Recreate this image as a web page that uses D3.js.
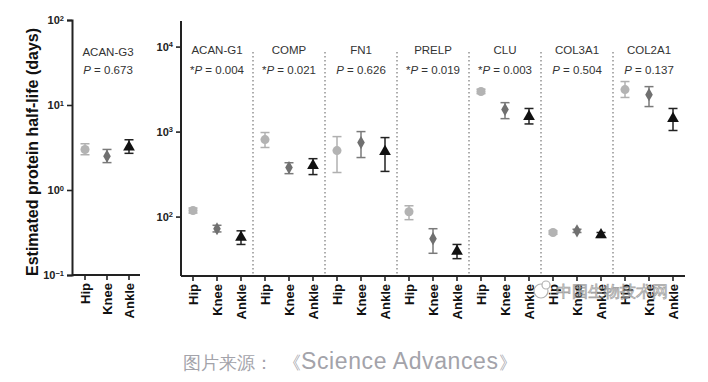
<!DOCTYPE html>
<html>
<head>
<meta charset="utf-8">
<script src="https://cdn.jsdelivr.net/npm/d3@7"></script>
<style>
  body { margin: 0; background: #fff; }
  svg text { font-family: Arial, "Liberation Sans", sans-serif; }
</style>
</head>
<body>
<svg id="chart" width="708" height="382"></svg>
<script>
// joints on the x axis
const joints = ["Hip", "Knee", "Ankle"];

// left panel (ACAN-G3)
const g3Mean = [3.0, 2.5, 3.2];
const g3Low = [2.6, 2.1, 2.7];
const g3High = [3.5, 3.0, 3.9];

// right panel
const genes = ["ACAN-G1", "COMP", "FN1", "PRELP", "CLU", "COL3A1", "COL2A1"];
const pValues = ["0.004", "0.021", "0.626", "0.019", "0.003", "0.504", "0.137"];
const pStar = [true, true, false, true, true, false, false];

const hipMean = [118, 805, 598, 114, 2960, 65, 3120];
const hipLow = [110, 650, 330, 92, 2800, 62, 2520];
const hipHigh = [126, 975, 873, 134, 3150, 68, 3880];
const kneeMean = [72, 377, 742, 55, 1820, 68, 2720];
const kneeLow = [66, 320, 495, 37, 1420, 65, 1970];
const kneeHigh = [79, 430, 1000, 72, 2190, 71, 3380];
const ankleMean = [57, 398, 582, 39, 1500, 61, 1420];
const ankleLow = [47, 312, 340, 32, 1230, 57, 1030];
const ankleHigh = [68, 480, 850, 47, 1870, 65, 1870];

const symbols = [d3.symbolCircle, d3.symbolDiamond, d3.symbolTriangle];
const fills = ["#b3b3b3", "#707070", "#111"];
const barColors = ["#b0b0b0", "#7a7a7a", "#222"];
const symSizes = [64, 50, 60];

const svg = d3.select("#chart");
const sup = {"-1": "−1", "0": "0", "1": "1", "2": "2", "3": "3", "4": "4"};

function powerTicks(axisG) {
  axisG.selectAll(".tick text").each(function(d) {
    let t = d3.select(this);
    let e = Math.round(Math.log10(d));
    t.text(null);
    t.append("tspan").text("10");
    t.append("tspan").attr("dy", "-0.45em").attr("font-size", "7.5px").text(sup[e]);
  });
}

function styleAxis(g) {
  g.select(".domain").attr("stroke", "#222").attr("stroke-width", 2);
  g.selectAll(".tick line").attr("stroke", "#222").attr("stroke-width", 1.6);
}

function drawPoints(g, xs, y, mean, low, high, k) {
  let cap = 4.5;
  g.append("line").attr("x1", xs).attr("x2", xs)
    .attr("y1", y(low)).attr("y2", y(high))
    .attr("stroke", barColors[k]).attr("stroke-width", 1.5);
  [low, high].forEach(v => {
    g.append("line").attr("x1", xs - cap).attr("x2", xs + cap)
      .attr("y1", y(v)).attr("y2", y(v))
      .attr("stroke", barColors[k]).attr("stroke-width", 1.5);
  });
  g.append("path")
    .attr("d", d3.symbol().type(symbols[k]).size(symSizes[k]))
    .attr("transform", "translate(" + xs + "," + y(mean) + ")")
    .attr("fill", fills[k]);
}

// ----- left panel -----
let yL = d3.scaleLog().domain([0.1, 100]).range([275, 20]);
let xL = d3.scaleBand().domain(joints).range([74, 140]);

let axL = svg.append("g").attr("transform", "translate(72,0)")
  .call(d3.axisLeft(yL).tickValues([0.1, 1, 10, 100]).tickSize(5).tickPadding(3));
axL.selectAll(".tick text").attr("font-size", "11px").attr("font-weight", "bold").attr("fill", "#222");
powerTicks(axL);
styleAxis(axL);

let axLx = svg.append("g").attr("transform", "translate(0,275)")
  .call(d3.axisBottom(xL).tickSize(5).tickSizeOuter(0));
axLx.select(".domain").attr("d", "M72,0H140");
styleAxis(axLx);
axLx.selectAll(".tick text")
  .attr("transform", "rotate(-90)").attr("text-anchor", "end")
  .attr("x", -8).attr("y", 0).attr("dy", "0.35em")
  .attr("font-size", "13px").attr("font-weight", "bold").attr("fill", "#111");

svg.append("text").attr("x", 108).attr("y", 56).attr("text-anchor", "middle")
  .attr("font-size", "11.5px").attr("fill", "#333").text("ACAN-G3");
let pL = svg.append("text").attr("x", 108).attr("y", 74).attr("text-anchor", "middle")
  .attr("font-size", "11.5px").attr("fill", "#333");
pL.append("tspan").attr("font-style", "italic").text("P");
pL.append("tspan").text(" = 0.673");

joints.forEach((j, k) => {
  drawPoints(svg.append("g"), xL(j) + xL.bandwidth() / 2, yL, g3Mean[k], g3Low[k], g3High[k], k);
});

// y-axis title
svg.append("text")
  .attr("transform", "translate(38,152) rotate(-90)")
  .attr("text-anchor", "middle").attr("font-size", "16px").attr("font-weight", "bold")
  .attr("fill", "#111").text("Estimated protein half-life (days)");

// ----- right panel -----
let yR = d3.scaleLog().domain([20, 20000]).range([276, 21]);
let cats = [];
genes.forEach(g => joints.forEach(j => cats.push(g + "|" + j)));
let xR = d3.scaleBand().domain(cats).range([181, 685]);

let axR = svg.append("g").attr("transform", "translate(181,0)")
  .call(d3.axisLeft(yR).tickValues([100, 1000, 10000]).tickSize(5).tickPadding(3));
axR.selectAll(".tick text").attr("font-size", "11px").attr("font-weight", "bold").attr("fill", "#222");
powerTicks(axR);
styleAxis(axR);
axR.select(".domain").attr("d", "M0,21V276");

let axRx = svg.append("g").attr("transform", "translate(0,276)")
  .call(d3.axisBottom(xR).tickSize(5).tickSizeOuter(0).tickFormat(d => d.split("|")[1]));
axRx.select(".domain").attr("d", "M181,0H685");
styleAxis(axRx);
axRx.selectAll(".tick text")
  .attr("transform", "rotate(-90)").attr("text-anchor", "end")
  .attr("x", -8).attr("y", 0).attr("dy", "0.35em")
  .attr("font-size", "13px").attr("font-weight", "bold").attr("fill", "#111");

let means = [hipMean, kneeMean, ankleMean];
let lows = [hipLow, kneeLow, ankleLow];
let highs = [hipHigh, kneeHigh, ankleHigh];

genes.forEach((g, i) => {
  let x0 = xR(g + "|Hip");
  let x1 = xR(g + "|Ankle") + xR.bandwidth();
  let cx = (x0 + x1) / 2;
  if (i > 0) {
    svg.append("line").attr("x1", x0).attr("x2", x0).attr("y1", 52).attr("y2", 276)
      .attr("stroke", "#777").attr("stroke-width", 1.2).attr("stroke-dasharray", "1.5,2.5");
  }
  svg.append("text").attr("x", cx).attr("y", 54).attr("text-anchor", "middle")
    .attr("font-size", "11.5px").attr("fill", "#333").text(g);
  let p = svg.append("text").attr("x", cx).attr("y", 74).attr("text-anchor", "middle")
    .attr("font-size", "11.5px").attr("fill", "#333");
  if (pStar[i]) p.append("tspan").text("*");
  p.append("tspan").attr("font-style", "italic").text("P");
  p.append("tspan").text(" = " + pValues[i]);

  joints.forEach((j, k) => {
    drawPoints(svg.append("g"), xR(g + "|" + j) + xR.bandwidth() / 2, yR,
      means[k][i], lows[k][i], highs[k][i], k);
  });
});

// watermark
let wm = svg.append("g").attr("opacity", 0.75);
wm.append("circle").attr("cx", 541).attr("cy", 291).attr("r", 7)
  .attr("fill", "#fff").attr("stroke", "#999").attr("stroke-width", 1.2);
wm.append("circle").attr("cx", 546).attr("cy", 285).attr("r", 4)
  .attr("fill", "#fff").attr("stroke", "#999").attr("stroke-width", 1.2);
wm.append("text").attr("x", 556).attr("y", 297)
  .attr("font-family", "'Noto Sans CJK SC', sans-serif").attr("font-size", "16px")
  .attr("fill", "#f4f4f4").attr("stroke", "#888").attr("stroke-width", 0.8)
  .text("中国生物技术网");

// caption
let cap = svg.append("text").attr("x", 183).attr("y", 369)
  .attr("font-family", "'Noto Sans CJK SC', 'Noto Sans', sans-serif")
  .attr("font-size", "18px").attr("fill", "#a3a3aa");
cap.append("tspan").text("图片来源：");
cap.append("tspan").attr("dx", 10).text("《");
cap.append("tspan").attr("font-family", "Arial, 'Liberation Sans', sans-serif")
  .attr("font-size", "23px").attr("letter-spacing", "0.6px").text("Science Advances");
cap.append("tspan").text("》");
</script>
</body>
</html>
